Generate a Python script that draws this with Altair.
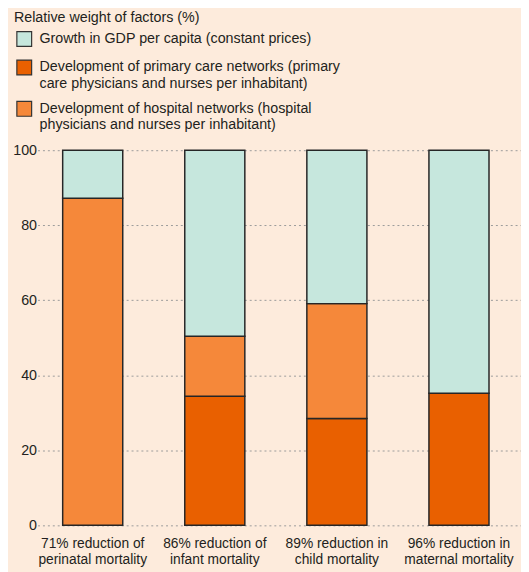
import altair as alt
import pandas as pd

categories = [
    "71% reduction of|perinatal mortality",
    "86% reduction of|infant mortality",
    "89% reduction in|child mortality",
    "96% reduction in|maternal mortality",
]
series = [
    "Growth in GDP per capita (constant prices)",
    "Development of primary care networks (primary|care physicians and nurses per inhabitant)",
    "Development of hospital networks (hospital|physicians and nurses per inhabitant)",
]
gdp = [12.8, 49.6, 40.9, 64.8]
primary = [0.0, 34.4, 28.5, 35.2]
hospital = [87.2, 16.0, 30.6, 0.0]
colors = ["#c6e7dd", "#e96000", "#f5883a"]
y_ticks = [0, 20, 40, 60, 80, 100]

rows = []
for i, cat in enumerate(categories):
    for name, vals, rank in [(series[1], primary, 0), (series[2], hospital, 1), (series[0], gdp, 2)]:
        if vals[i] > 0:
            rows.append({"category": cat, "series": name, "value": vals[i], "rank": rank})
df = pd.DataFrame(rows)

FONT = "Liberation Sans"
TXT = "#231f20"

chart = alt.Chart(df).mark_bar(stroke="#262626", strokeWidth=1.5).encode(
    x=alt.X(
        "category:N",
        sort=categories,
        scale=alt.Scale(paddingInner=0.508, paddingOuter=0.234, align=0.44),
        axis=alt.Axis(
            title=None,
            labelExpr="split(datum.label, '|')",
            labelAngle=0,
            labelFontSize=14,
            labelLineHeight=16.5,
            labelPadding=11,
            ticks=False,
            domain=False,
            labelColor=TXT,
            labelFont=FONT,
        ),
    ),
    y=alt.Y(
        "value:Q",
        stack="zero",
        scale=alt.Scale(domain=[0, 100], nice=False),
        axis=alt.Axis(
            title=None,
            values=y_ticks,
            grid=True,
            gridDash=[2, 3],
            gridColor="#9a9a9a",
            gridWidth=1,
            ticks=False,
            domain=False,
            labelPadding=1,
            labelFontSize=14.5,
            labelColor=TXT,
            labelFont=FONT,
        ),
    ),
    color=alt.Color(
        "series:N",
        scale=alt.Scale(domain=series, range=colors),
        legend=alt.Legend(
            title="Relative weight of factors (%)",
            orient="none",
            legendX=-24,
            legendY=-141,
            direction="vertical",
            padding=0,
            symbolType="square",
            symbolSize=225,
            symbolStrokeColor="#333333",
            symbolStrokeWidth=1.2,
            symbolOffset=2,
            labelOffset=7,
            labelExpr="split(datum.label, '|')",
            labelFontSize=14.5,
            labelColor=TXT,
            labelFont=FONT,
            labelLimit=500,
            titleFontSize=14.5,
            titleFontWeight="normal",
            titleColor=TXT,
            titleFont=FONT,
            titleLimit=500,
            titlePadding=5,
            rowPadding=8,
        ),
    ),
    order=alt.Order("rank:Q", sort="ascending"),
).properties(
    width=491,
    height=381,
    background="#fdebdc",
    padding={"left": 30, "top": 140, "right": 0, "bottom": 45},
    autosize=alt.AutoSizeParams(type="none"),
).configure_view(stroke=None)

chart.save("out.html", embed_options={"renderer": "svg", "actions": False})
